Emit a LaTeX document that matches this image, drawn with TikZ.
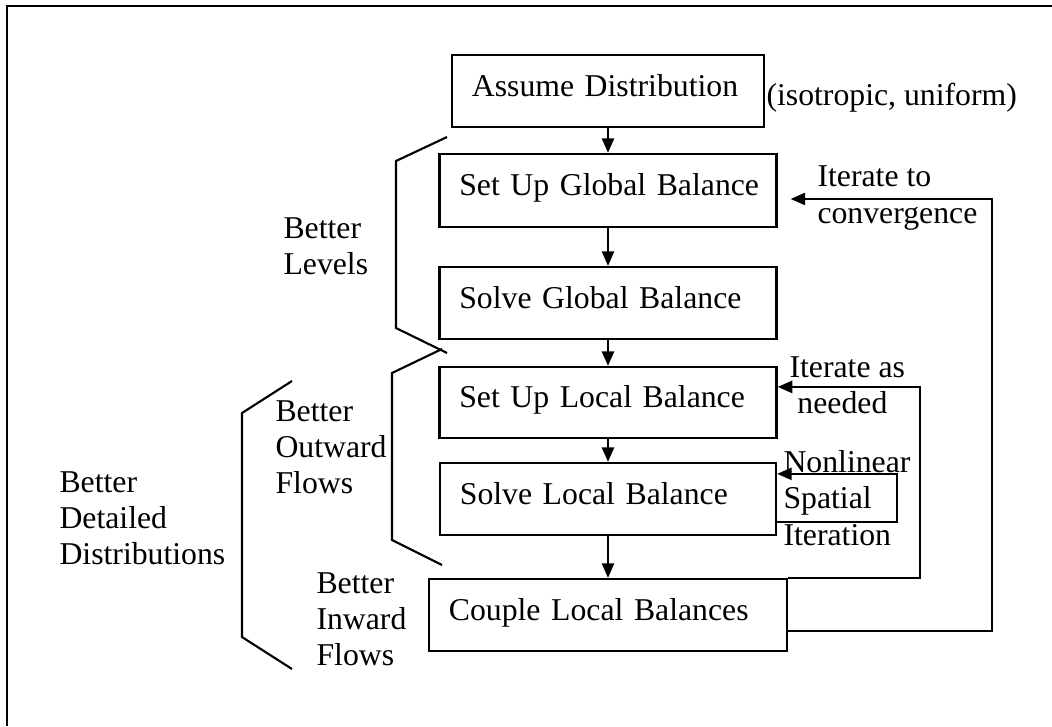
\documentclass[tikz,border=0pt]{standalone}
\usepackage{fontspec}
\setmainfont{Liberation Serif}
\usetikzlibrary{arrows.meta}

\begin{document}
\begin{tikzpicture}[x=0.378pt, y=-0.378pt,
    font=\fontsize{12}{13.7}\selectfont,
    box/.style={draw, line width=0.9pt, text width=#1, align=left,
      inner xsep=7.5pt, minimum height=27.2pt,
      text height=9.5pt, text depth=5.7pt},
    arr/.style={line width=0.8pt, -{Triangle[length=5.5pt,width=4.6pt]}},
    lbl/.style={align=left, anchor=west, inner sep=0pt}]
  \useasboundingbox (0,0) rectangle (1052,726);
  \draw[line width=0.8pt] (1052,6) -- (7,6) -- (7,726);

  \node[box=102.9pt] (assume) at (608, 91) {\mbox{Assume Distribution}};
  \node[box=112.4pt, minimum height=27.6pt] (setupG) at (608, 190.5) {\mbox{Set Up Global Balance}};
  \node[box=112.4pt] (solveG) at (608, 303) {\mbox{Solve Global Balance}};
  \node[box=112.4pt, minimum height=26.8pt] (setupL) at (608, 402.5) {\mbox{Set Up Local Balance}};
  \node[box=112.0pt] (solveL) at (608, 499) {\mbox{Solve Local Balance}};
  \node[box=120.3pt] (couple) at (608, 615) {\mbox{Couple Local Balances}};

  \node[lbl] (iso) at (766, 98) {(isotropic, uniform)};
  \node[lbl] (conv) at (817, 198) {Iterate to\\convergence};
  \node[lbl] (needed) at (789, 385) {Iterate as\\\hspace*{3pt}needed};
  \node[lbl] (nonlin) at (783, 498) {Nonlinear\\Spatial\\Iteration};
  \node[lbl] (levels) at (283, 246) {Better\\Levels};
  \node[lbl] (outward) at (275, 447) {Better\\Outward\\Flows};
  \node[lbl] (inward) at (316, 619) {Better\\Inward\\Flows};
  \node[lbl] (detail) at (59, 518) {Better\\Detailed\\Distributions};

  \draw[arr] (assume) -- (setupG);
  \draw[arr] (setupG) -- (solveG);
  \draw[arr] (solveG) -- (setupL);
  \draw[arr] (setupL) -- (solveL);
  \draw[arr] (solveL) -- (couple);
  \draw[arr] ([yshift=-8.7pt]solveL.east) -- ++(120,0) |- ([yshift=9.5pt]solveL.east);
  \draw[arr] (couple.north east) -- ++(132,0) |- ([yshift=5.9pt]setupL.east);
  \draw[arr, shorten >=4.9pt] ([yshift=-6pt]couple.east) -- ++(204,0) |- ([yshift=-3.2pt]setupG.east);

  \draw[line width=0.8pt] (447,137) -- (396,161) -- (396,328) -- (447,353);
  \draw[line width=0.8pt] (442,349) -- (392,373) -- (392,540) -- (442,565);
  \draw[line width=0.8pt] (292,381) -- (242,413) -- (242,637) -- (292,669);
\end{tikzpicture}
\end{document}
